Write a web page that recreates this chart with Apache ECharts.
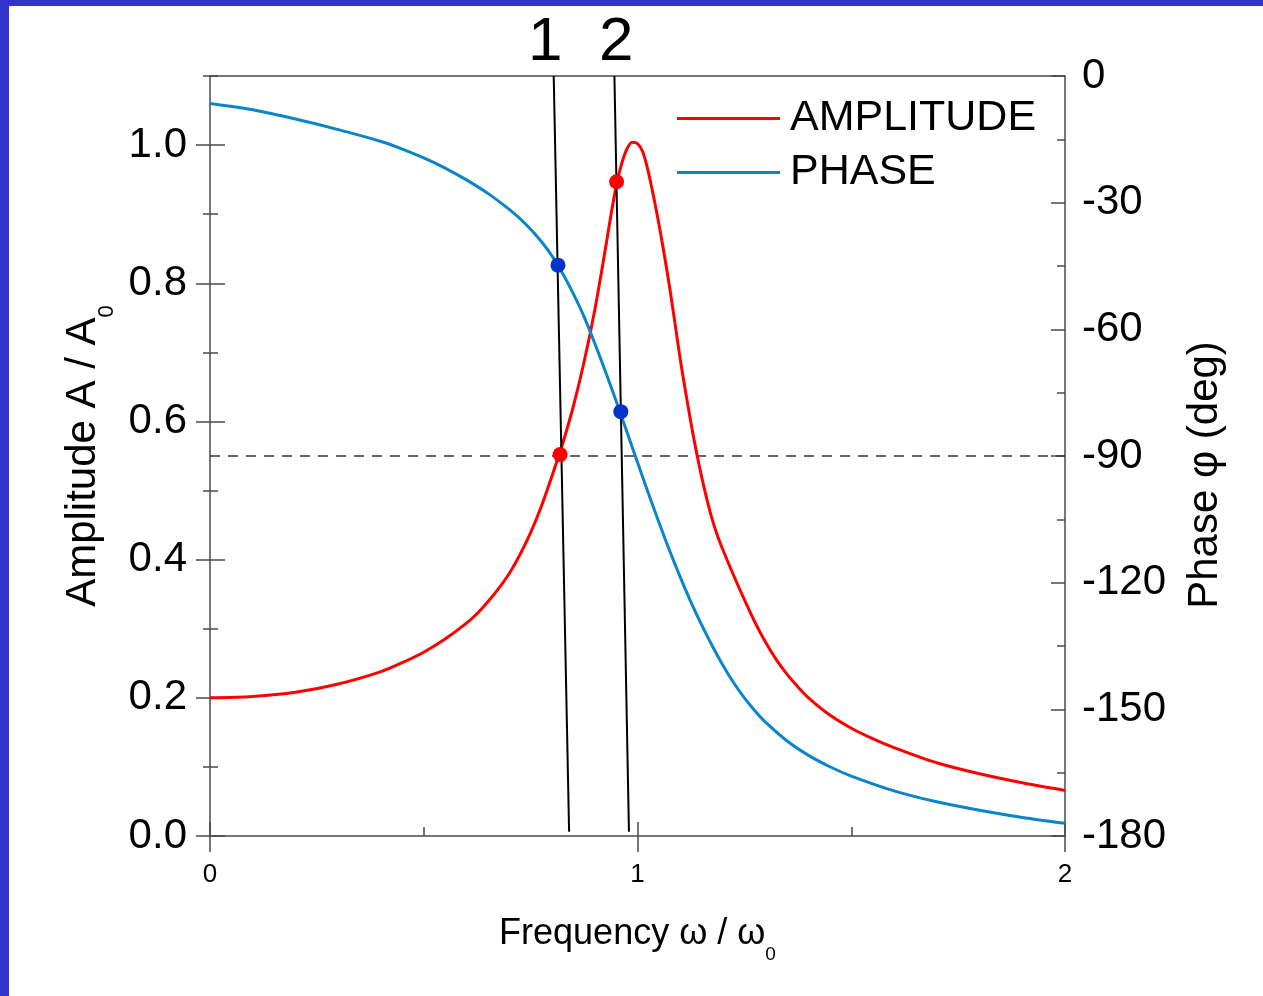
<!DOCTYPE html>
<html><head><meta charset="utf-8">
<script src="https://cdn.jsdelivr.net/npm/echarts@6/dist/echarts.min.js"></script>
<style>html,body{margin:0;padding:0;background:#fff}#chart{width:1263px;height:996px}</style>
</head><body><div id="chart"></div>
<script>
// ---------- data ----------
const ampOmega  = [0, 0.1, 0.2, 0.3, 0.4, 0.45, 0.5, 0.55, 0.6, 0.625, 0.65, 0.675, 0.7, 0.725, 0.75, 0.775, 0.8, 0.825, 0.85, 0.875, 0.9, 0.925, 0.9375, 0.95, 0.9625, 0.975, 0.9875, 1.0, 1.0125, 1.025, 1.0375, 1.05, 1.0625, 1.075, 1.0875, 1.1, 1.1125, 1.125, 1.1375, 1.15, 1.1625, 1.175, 1.1875, 1.2, 1.225, 1.25, 1.275, 1.3, 1.325, 1.35, 1.375, 1.4, 1.45, 1.5, 1.55, 1.6, 1.7, 1.8, 1.9, 2.0];
const ampValues = [0.200, 0.202, 0.208, 0.220, 0.238, 0.251, 0.266, 0.285, 0.308, 0.322, 0.339, 0.358, 0.380, 0.407, 0.439, 0.477, 0.521, 0.568, 0.622, 0.686, 0.761, 0.850, 0.897, 0.940, 0.972, 0.994, 1.004, 1.002, 0.990, 0.962, 0.926, 0.886, 0.842, 0.795, 0.743, 0.690, 0.643, 0.598, 0.557, 0.520, 0.487, 0.458, 0.434, 0.414, 0.377, 0.342, 0.309, 0.280, 0.255, 0.234, 0.216, 0.200, 0.175, 0.156, 0.141, 0.128, 0.106, 0.090, 0.077, 0.066];
const phaseOmega  = [0, 0.1, 0.2, 0.3, 0.4, 0.45, 0.5, 0.55, 0.6, 0.65, 0.7, 0.725, 0.75, 0.775, 0.8, 0.825, 0.85, 0.875, 0.9, 0.925, 0.95, 0.975, 1.0, 1.025, 1.05, 1.075, 1.1, 1.125, 1.15, 1.175, 1.2, 1.225, 1.25, 1.275, 1.3, 1.35, 1.4, 1.45, 1.5, 1.6, 1.7, 1.8, 1.9, 2.0];
const phaseValues = [-6.5, -8.0, -10.2, -12.7, -15.5, -17.3, -19.4, -21.8, -24.6, -27.8, -31.6, -33.8, -36.3, -39.2, -42.6, -46.8, -51.6, -57.0, -63.3, -70.0, -77.0, -84.2, -91.5, -98.7, -105.7, -112.4, -118.7, -124.6, -130.0, -135.0, -139.6, -143.7, -147.3, -150.4, -153.1, -157.5, -160.9, -163.6, -165.8, -169.3, -171.9, -173.9, -175.6, -177.0];

const xTickLabels     = [0, 1, 2];
const xMinorTicks     = [0.5, 1.5];
const ampTickLabels   = [0, 0.2, 0.4, 0.6, 0.8, 1.0];
const ampMinorTicks   = [0.1, 0.3, 0.5, 0.7, 0.9, 1.1];
const phaseTickLabels = [0, -30, -60, -90, -120, -150, -180];
const phaseMinorTicks = [-15, -45, -75, -105, -135, -165];

const marker1 = [[0.804, 1.10], [0.840, 0.006]];
const marker2 = [[0.946, 1.10], [0.980, 0.006]];
const markerLabels = [[0.784, 1.10, '1'], [0.950, 1.10, '2']];
const ampDots   = [[0.819, 0.552], [0.951, 0.947]];
const phaseDots = [[0.814, -44.8], [0.961, -79.5]];
const refLevel = 0.55;
const xRange = [0, 2];

// ---------- chart ----------
const FONT = '"Liberation Sans", Arial, Helvetica, sans-serif';
const AX = '#4a4a4a';
const zip = (a, b) => a.map((v, i) => [v, b[i]]);

function blankAxis(extra) {
  return Object.assign({
    type: 'value', gridIndex: 0,
    axisLine: {show: false, onZero: false},
    axisLabel: {show: false},
    splitLine: {show: false}
  }, extra);
}
const tickStyle = {color: AX, width: 1.5};

const chart = echarts.init(document.getElementById('chart'), null, {renderer: 'canvas'});
chart.setOption({
  animation: false,
  backgroundColor: '#ffffff',
  textStyle: {fontFamily: FONT},
  grid: {left: 210, top: 76, right: 198, bottom: 160, containLabel: false, outerBoundsMode: 'none'},
  legend: {
    data: ['AMPLITUDE', 'PHASE'], orient: 'vertical', left: 677, top: 97,
    itemWidth: 103, itemHeight: 3, itemGap: 11, icon: 'rect', padding: 0,
    textStyle: {fontSize: 43, fontFamily: FONT, color: '#000', padding: [0, 0, 0, 5]}
  },
  graphic: [
    {type: 'rect', silent: true, z: 100, shape: {x: 0, y: 0, width: 1263, height: 6}, style: {fill: '#3333cc'}},
    {type: 'rect', silent: true, z: 100, shape: {x: 0, y: 0, width: 9, height: 996}, style: {fill: '#3333cc'}},
    {type: 'text', x: 1205, y: 475, rotation: Math.PI / 2,
     style: {text: 'Phase φ (deg)', font: '42px ' + FONT, fill: '#000', textAlign: 'center', textVerticalAlign: 'middle'}}
  ],
  xAxis: [
    {type: 'value', gridIndex: 0, position: 'bottom', min: xRange[0], max: xRange[1],
     axisLine: {show: true, onZero: false, lineStyle: {color: AX, width: 1.5}},
     axisTick: {show: true, inside: false, length: 16, customValues: xTickLabels, lineStyle: tickStyle},
     axisLabel: {show: true, customValues: xTickLabels, margin: 26, fontSize: 26, color: '#000', fontFamily: FONT},
     splitLine: {show: false},
     name: '{m|Frequency ω / ω}{s|0}', nameLocation: 'middle', nameGap: 80,
     nameTextStyle: {color: '#000', fontFamily: FONT, fontSize: 36,
       rich: {m: {fontSize: 36, lineHeight: 36, fontFamily: FONT, color: '#000', verticalAlign: 'top'},
              s: {fontSize: 19, lineHeight: 19, fontFamily: FONT, color: '#000', verticalAlign: 'top', padding: [29, 0, 0, 0]}}}},
    blankAxis({position: 'bottom', min: xRange[0], max: xRange[1],
      axisTick: {show: true, inside: true, length: 14, customValues: xTickLabels, lineStyle: tickStyle}}),
    blankAxis({position: 'bottom', min: xRange[0], max: xRange[1],
      axisTick: {show: true, inside: true, length: 9, customValues: xMinorTicks, lineStyle: tickStyle}}),
    blankAxis({position: 'top', min: xRange[0], max: xRange[1],
      axisLine: {show: true, onZero: false, lineStyle: {color: AX, width: 1.5}},
      axisTick: {show: false}})
  ],
  yAxis: [
    {type: 'value', gridIndex: 0, position: 'left', min: 0, max: 1.1,
     axisLine: {show: true, onZero: false, lineStyle: {color: AX, width: 1.5}},
     axisTick: {show: true, inside: false, length: 14, customValues: ampTickLabels, lineStyle: tickStyle},
     axisLabel: {show: true, customValues: ampTickLabels, margin: 23, fontSize: 42, color: '#000', fontFamily: FONT,
                 formatter: v => v.toFixed(1)},
     splitLine: {show: false},
     name: '{m|Amplitude A / A}{s|0}', nameLocation: 'middle', nameGap: 89,
     nameTextStyle: {color: '#000', fontFamily: FONT, fontSize: 42,
       rich: {m: {fontSize: 42, lineHeight: 42, fontFamily: FONT, color: '#000', verticalAlign: 'top'},
              s: {fontSize: 22, lineHeight: 22, fontFamily: FONT, color: '#000', verticalAlign: 'top', padding: [33, 0, 0, 0]}}}},
    blankAxis({position: 'left', min: 0, max: 1.1,
      axisTick: {show: true, inside: true, length: 15, customValues: ampTickLabels, lineStyle: tickStyle}}),
    blankAxis({position: 'left', min: 0, max: 1.1,
      axisTick: {show: true, inside: false, length: 7, customValues: ampMinorTicks, lineStyle: tickStyle}}),
    blankAxis({position: 'left', min: 0, max: 1.1,
      axisTick: {show: true, inside: true, length: 8, customValues: ampMinorTicks, lineStyle: tickStyle}}),
    {type: 'value', gridIndex: 0, position: 'right', min: -180, max: 0,
     axisLine: {show: true, onZero: false, lineStyle: {color: AX, width: 1.5}},
     axisTick: {show: true, inside: true, length: 14, customValues: phaseTickLabels, lineStyle: tickStyle},
     axisLabel: {show: true, customValues: phaseTickLabels, margin: 17, fontSize: 42, color: '#000', fontFamily: FONT},
     splitLine: {show: false}},
    blankAxis({position: 'right', min: -180, max: 0,
      axisTick: {show: true, inside: true, length: 8, customValues: phaseMinorTicks, lineStyle: tickStyle}})
  ],
  series: [
    {name: 'AMPLITUDE', type: 'line', xAxisIndex: 0, yAxisIndex: 0, data: zip(ampOmega, ampValues),
     showSymbol: false, symbol: 'none', smooth: 0.3, color: '#ff0000',
     lineStyle: {color: '#ff0000', width: 3}, z: 3},
    {name: 'PHASE', type: 'line', xAxisIndex: 0, yAxisIndex: 4, data: zip(phaseOmega, phaseValues),
     showSymbol: false, symbol: 'none', smooth: 0.3, color: '#0a86c8',
     lineStyle: {color: '#0a86c8', width: 3}, z: 3},
    {type: 'line', xAxisIndex: 0, yAxisIndex: 0, data: [[xRange[0], refLevel], [xRange[1], refLevel]],
     showSymbol: false, symbol: 'none', lineStyle: {color: '#333', width: 1.5, type: [10, 8]}, z: 2, silent: true},
    {type: 'line', xAxisIndex: 0, yAxisIndex: 0, data: marker1, clip: false,
     showSymbol: false, symbol: 'none', lineStyle: {color: '#000', width: 2}, z: 4, silent: true},
    {type: 'line', xAxisIndex: 0, yAxisIndex: 0, data: marker2, clip: false,
     showSymbol: false, symbol: 'none', lineStyle: {color: '#000', width: 2}, z: 4, silent: true},
    {type: 'scatter', xAxisIndex: 0, yAxisIndex: 0, data: markerLabels, symbolSize: 0, clip: false, silent: true,
     label: {show: true, position: 'top', distance: 2, formatter: p => p.value[2],
             fontSize: 62, fontFamily: FONT, color: '#000000', opacity: 1, textBorderWidth: 0}},
    {type: 'scatter', xAxisIndex: 0, yAxisIndex: 0, data: ampDots, symbolSize: 15,
     itemStyle: {color: '#ff0000', opacity: 1}, z: 6},
    {type: 'scatter', xAxisIndex: 0, yAxisIndex: 4, data: phaseDots, symbolSize: 15,
     itemStyle: {color: '#0433cc', opacity: 1}, z: 6}
  ]
});
</script></body></html>
